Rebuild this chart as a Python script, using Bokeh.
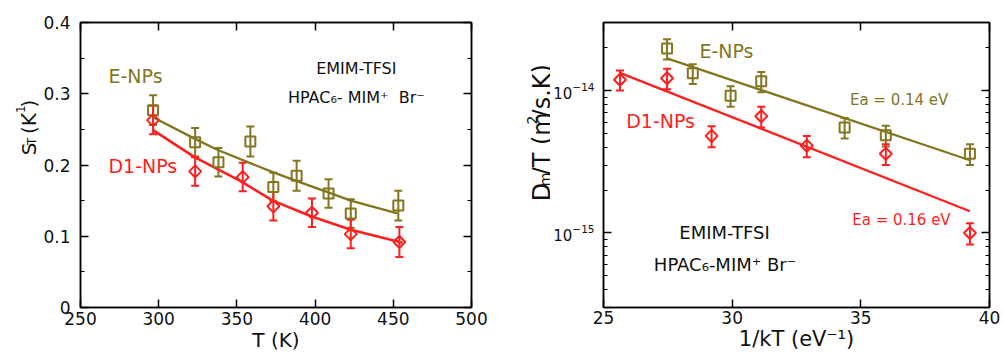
import math
from bokeh.plotting import figure
from bokeh.models import (Range1d, LinearAxis, LogAxis, SingleIntervalTicker, LogTicker,
                          Label, Whisker, TeeHead, ColumnDataSource, CustomJSTickFormatter)
from bokeh.core.properties import value
from bokeh.layouts import row
from bokeh.embed import file_html
from bokeh.resources import INLINE

# ---------------- data: left panel (S_T vs T) ----------------
T_E = [296.4, 323.3, 338.2, 358.6, 373.3, 388.2, 408.6, 422.8, 453.2]
S_E = [0.277, 0.232, 0.204, 0.233, 0.169, 0.185, 0.160, 0.132, 0.143]
S_E_err = [0.021, 0.020, 0.020, 0.021, 0.020, 0.021, 0.020, 0.020, 0.021]

T_D1 = [296.4, 323.3, 353.7, 373.3, 398.0, 422.8, 453.9]
S_D1 = [0.263, 0.191, 0.183, 0.142, 0.133, 0.103, 0.092]
S_D1_err = [0.020, 0.020, 0.020, 0.020, 0.020, 0.020, 0.021]

fitT_E = [296.4, 322.9, 337.8, 357.0, 372.9, 388.8, 408.0, 422.8, 452.6]
fitS_E = [0.267, 0.237, 0.221, 0.204, 0.190, 0.177, 0.162, 0.150, 0.132]
fitT_D1 = [296.4, 322.9, 352.7, 372.9, 397.4, 422.8, 456.0]
fitS_D1 = [0.249, 0.211, 0.177, 0.150, 0.128, 0.109, 0.091]

# ---------------- data: right panel (Dm/T vs 1/kT) ----------------
x_E = [27.47, 28.47, 29.94, 31.13, 34.37, 35.97, 39.24]
D_E = [1.97e-14, 1.32e-14, 9.2e-15, 1.16e-14, 5.5e-15, 4.85e-15, 3.6e-15]
D_E_err = [3.2e-15, 2.1e-15, 1.5e-15, 1.9e-15, 9e-16, 8e-16, 6e-16]

x_D1 = [25.64, 27.47, 29.20, 31.13, 32.90, 35.97, 39.24]
D_D1 = [1.19e-14, 1.22e-14, 4.8e-15, 6.6e-15, 4.1e-15, 3.6e-15, 1.0e-15]
D_D1_err = [1.9e-15, 2.0e-15, 8e-16, 1.1e-15, 7e-16, 6e-16, 1.7e-16]

fitx_E = [27.47, 39.24]
fitD_E = [1.68e-14, 3.24e-15]
fitx_D1 = [25.64, 39.24]
fitD_D1 = [1.33e-14, 1.42e-15]

OLIVE = "#84751f"
RED = "#ff1e1e"
BLACK = "#111111"
FONT = "DejaVu Sans"

# advance widths of DejaVu Sans (em) used to chain the rotated title pieces
ADV = {"S": .635, "T": .611, " ": .318, "(": .390, "K": .656, "-": .361, "1": .636,
       ")": .390, "D": .770, "m": .974, "/": .337, "2": .636, "s": .521, ".": .318}


def style_axis(ax, label_size, standoff, show_labels=True):
    ax.axis_line_color = "black"
    ax.axis_line_width = 1.5
    ax.major_tick_line_color = "black"
    ax.minor_tick_line_color = "black"
    ax.major_tick_line_width = 1.5
    ax.minor_tick_line_width = 1.2
    ax.major_tick_in = 8
    ax.major_tick_out = 0
    ax.minor_tick_in = 4
    ax.minor_tick_out = 0
    ax.major_label_text_font = FONT
    ax.major_label_text_color = BLACK
    ax.major_label_standoff = standoff
    ax.major_label_text_font_size = f"{label_size}px"
    ax.axis_label_text_font = FONT
    ax.axis_label_text_font_style = "normal"
    ax.axis_label_text_color = BLACK
    ax.axis_label_standoff = 0
    if not show_labels:
        ax.major_label_standoff = 0
        ax.formatter = CustomJSTickFormatter(code="return ''")


def add_label(p, x, y, text, size, color, align="left", baseline="middle"):
    p.add_layout(Label(x=x, y=y, text=text, text_font=FONT,
                       text_font_size=f"{size}px", text_color=color,
                       text_align=align, text_baseline=baseline))


def title_fig(width, pieces, base_x, start_y):
    """Narrow figure (pixel ranges) holding a rotated, composed axis title.
    pieces: list of (text, font_px, baseline_shift_px)."""
    f = figure(width=width, height=354, x_range=Range1d(0, width), y_range=Range1d(0, 354),
               output_backend="svg", toolbar_location=None, min_border=0,
               x_axis_location=None, y_axis_location=None)
    f.xgrid.visible = False
    f.ygrid.visible = False
    f.outline_line_color = None
    y = start_y
    for txt, size, shift in pieces:
        lead = len(txt) - len(txt.lstrip(" "))
        y -= lead * ADV[" "] * size
        txt = txt.lstrip(" ")
        f.text(x=[base_x + shift], y=[354 - y], text=[txt], angle=math.pi / 2,
               text_font=value(FONT), text_font_size=value(f"{size}px"),
               text_color=BLACK, text_align="left", text_baseline="alphabetic")
        y -= sum(ADV[c] for c in txt) * size
    return f


# ================= LEFT PANEL =================
p1 = figure(width=460, height=354, x_range=Range1d(250, 500), y_range=Range1d(0, 0.4),
            output_backend="svg", toolbar_location=None,
            min_border_left=39, min_border_right=29, min_border_top=22, min_border_bottom=45)
p1.xgrid.visible = False
p1.ygrid.visible = False
p1.outline_line_color = "black"
p1.outline_line_width = 1.5

p1.xaxis.ticker = SingleIntervalTicker(interval=50, num_minor_ticks=0)
p1.yaxis.ticker = SingleIntervalTicker(interval=0.1, num_minor_ticks=2)
p1.yaxis.major_label_overrides = {0: "0"}
style_axis(p1.xaxis[0], 17, 4)
style_axis(p1.yaxis[0], 17, 10)
p1.xaxis.axis_label = "T (K)"
p1.xaxis.axis_label_text_font_size = "20px"
top1 = LinearAxis(ticker=SingleIntervalTicker(interval=50, num_minor_ticks=0))
right1 = LinearAxis(ticker=SingleIntervalTicker(interval=0.1, num_minor_ticks=2))
style_axis(top1, 10, 0, show_labels=False)
style_axis(right1, 10, 0, show_labels=False)
p1.add_layout(top1, "above")
p1.add_layout(right1, "right")

p1.line(fitT_E, fitS_E, line_color=OLIVE, line_width=2.3)
p1.line(fitT_D1, fitS_D1, line_color=RED, line_width=2.6)

srcE1 = ColumnDataSource(dict(x=T_E, y=S_E,
                              lo=[v - e for v, e in zip(S_E, S_E_err)],
                              hi=[v + e for v, e in zip(S_E, S_E_err)]))
srcD1 = ColumnDataSource(dict(x=T_D1, y=S_D1,
                              lo=[v - e for v, e in zip(S_D1, S_D1_err)],
                              hi=[v + e for v, e in zip(S_D1, S_D1_err)]))
for src, col in ((srcE1, OLIVE), (srcD1, RED)):
    p1.add_layout(Whisker(source=src, base="x", lower="lo", upper="hi", line_color=col,
                          line_width=2,
                          upper_head=TeeHead(size=8, line_color=col, line_width=2),
                          lower_head=TeeHead(size=8, line_color=col, line_width=2)))
p1.scatter("x", "y", source=srcE1, marker="square", size=10, fill_color=None,
           line_color=OLIVE, line_width=2)
p1.scatter("x", "y", source=srcD1, marker="square", angle=math.pi / 4, size=8.5,
           fill_color=None, line_color=RED, line_width=2)


def lx(px):
    return 250 + (px - 79) * 250 / 392


def ly(py):
    return (309 - py) * 0.4 / 287.3


add_label(p1, lx(107), ly(76), "E-NPs", 19, OLIVE)
add_label(p1, lx(107), ly(166), "D1-NPs", 19, RED)
add_label(p1, lx(355.5), ly(68), "EMIM-TFSI", 16, BLACK, align="center")
add_label(p1, lx(355.5), ly(97), "HPAC\u2086- MIM\u207a\u00a0\u00a0Br\u207b", 16, BLACK, align="center")

# ================= RIGHT PANEL =================
p2 = figure(width=453, height=354, x_range=Range1d(25, 40), y_range=Range1d(3e-16, 3e-14),
            y_axis_type="log", output_backend="svg", toolbar_location=None,
            min_border_left=48, min_border_right=14, min_border_top=21, min_border_bottom=46)
p2.xgrid.visible = False
p2.ygrid.visible = False
p2.outline_line_color = "black"
p2.outline_line_width = 1.5
p2.xaxis.ticker = SingleIntervalTicker(interval=5, num_minor_ticks=0)
p2.yaxis.ticker = LogTicker(num_minor_ticks=10)
style_axis(p2.xaxis[0], 17, 3)
style_axis(p2.yaxis[0], 15, 9)
p2.xaxis.axis_label = "1/kT (eV\u207b\u00b9)"
p2.xaxis.axis_label_text_font_size = "21px"
top2 = LinearAxis(ticker=SingleIntervalTicker(interval=5, num_minor_ticks=0))
right2 = LogAxis(ticker=LogTicker(num_minor_ticks=10))
style_axis(top2, 10, 0, show_labels=False)
style_axis(right2, 10, 0, show_labels=False)
p2.add_layout(top2, "above")
p2.add_layout(right2, "right")

p2.line(fitx_E, fitD_E, line_color=OLIVE, line_width=2.3)
p2.line(fitx_D1, fitD_D1, line_color=RED, line_width=2.3)

srcE2 = ColumnDataSource(dict(x=x_E, y=D_E,
                              lo=[v - e for v, e in zip(D_E, D_E_err)],
                              hi=[v + e for v, e in zip(D_E, D_E_err)]))
srcD2 = ColumnDataSource(dict(x=x_D1, y=D_D1,
                              lo=[v - e for v, e in zip(D_D1, D_D1_err)],
                              hi=[v + e for v, e in zip(D_D1, D_D1_err)]))
for src, col in ((srcE2, OLIVE), (srcD2, RED)):
    p2.add_layout(Whisker(source=src, base="x", lower="lo", upper="hi", line_color=col,
                          line_width=2,
                          upper_head=TeeHead(size=8, line_color=col, line_width=2),
                          lower_head=TeeHead(size=8, line_color=col, line_width=2)))
p2.scatter("x", "y", source=srcE2, marker="square", size=10, fill_color=None,
           line_color=OLIVE, line_width=2)
p2.scatter("x", "y", source=srcD2, marker="square", angle=math.pi / 4, size=8.5,
           fill_color=None, line_color=RED, line_width=2)


def rx(px):
    return 25 + (px - 597.7) * 15 / 391.6


def ry(py):
    return 10 ** (-14 + (89 - py) / 143.7)


add_label(p2, rx(695), ry(49), "E-NPs", 19, OLIVE)
add_label(p2, rx(620.7), ry(120), "D1-NPs", 19, RED)
add_label(p2, rx(847.7), ry(99), "Ea = 0.14 eV", 15, OLIVE)
add_label(p2, rx(850), ry(220), "Ea = 0.16 eV", 15, RED)
add_label(p2, rx(720.5), ry(232), "EMIM-TFSI", 18, BLACK, align="center")
add_label(p2, rx(721), ry(264), "HPAC\u2086-MIM\u207a Br\u207b", 18, BLACK, align="center")

# ================= rotated y-axis titles =================
ytitle1 = title_fig(40, [("S", 20, 0), ("T", 12, 3), (" (K", 20, 0), ("-1", 12, -8), (")", 20, 0)],
                    28, 165)
ytitle2 = title_fig(50, [("D", 24, 0), ("m", 14, 3), ("/T (m", 24, 0), ("2", 14, -10),
                         ("/s.K)", 24, 0)], 41.5, 222)

layout = row(ytitle1, p1, ytitle2, p2, spacing=0)
open("out.html", "w").write(file_html(layout, INLINE))
